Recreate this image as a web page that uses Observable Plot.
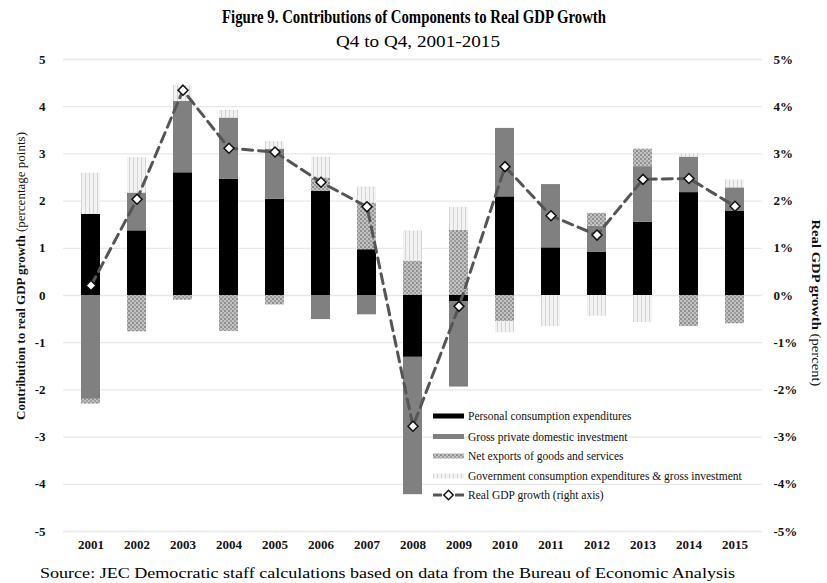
<!DOCTYPE html>
<html><head><meta charset="utf-8">
<script src="https://cdn.jsdelivr.net/npm/d3@7"></script>
<script src="https://cdn.jsdelivr.net/npm/@observablehq/plot@0.6"></script>
<style>
body{margin:0;background:#fff;font-family:"Liberation Serif","Times New Roman",serif;}
#wrap{position:relative;width:827px;height:583px;overflow:hidden;}
#head{position:absolute;left:0;top:0;}
#chart{position:absolute;left:0;top:50px;}
#foot{position:absolute;left:0;top:560px;}
</style></head><body>
<div id="wrap">
<svg id="head" width="827" height="50">
  <text id="title" x="414" y="23" text-anchor="middle" font-weight="bold" font-size="18.5" font-family="Liberation Serif" textLength="384" lengthAdjust="spacingAndGlyphs">Figure 9. Contributions of Components to Real GDP Growth</text>
  <text id="subtitle" x="418" y="47" text-anchor="middle" font-size="17" font-family="Liberation Serif" textLength="164" lengthAdjust="spacingAndGlyphs">Q4 to Q4, 2001-2015</text>
</svg>
<div id="chart"></div>
<svg id="foot" width="827" height="23">
  <text x="40" y="18" font-size="15.5" font-family="Liberation Serif" textLength="695" lengthAdjust="spacingAndGlyphs">Source: JEC Democratic staff calculations based on data from the Bureau of Economic Analysis</text>
</svg>
</div>
<script>
const years = ["2001","2002","2003","2004","2005","2006","2007","2008","2009","2010","2011","2012","2013","2014","2015"];
const pce = [1.72, 1.37, 2.60, 2.46, 2.04, 2.21, 0.97, -1.31, -0.13, 2.09, 1.01, 0.92, 1.55, 2.18, 1.79];
const inv = [-2.20, 0.80, 1.51, 1.30, 1.06, -0.51, -0.41, -2.91, -1.81, 1.45, 1.34, 0.55, 1.18, 0.75, 0.49];
const nx  = [-0.10, -0.77, -0.10, -0.76, -0.20, 0.28, 0.99, 0.73, 1.38, -0.55, 0.00, 0.27, 0.37, -0.66, -0.60];
const gov = [0.87, 0.75, 0.34, 0.16, 0.16, 0.44, 0.34, 0.64, 0.49, -0.24, -0.66, -0.44, -0.57, 0.08, 0.17];
const gdp = [0.21, 2.04, 4.35, 3.12, 3.04, 2.40, 1.88, -2.77, -0.23, 2.73, 1.69, 1.28, 2.46, 2.48, 1.89];
const seriesNames = ["Personal consumption expenditures","Gross private domestic investment","Net exports of goods and services","Government consumption expenditures & gross investment"];
const gdpLabel = "Real GDP growth (right axis)";
const yTicks = [-5,-4,-3,-2,-1,0,1,2,3,4,5];
const seriesFills = ["#000000","#808080","url(#pNx)","url(#pGov)"];

const seriesValues = [pce, inv, nx, gov];
const rows = [];
years.forEach((yr, i) => seriesNames.forEach((s, j) => rows.push({year: yr, series: s, value: seriesValues[j][i]})));
const gdpRows = years.map((yr, i) => ({year: yr, gdp: gdp[i]}));

const plot = Plot.plot({
  width: 827, height: 510,
  marginTop: 9, marginBottom: 29, marginLeft: 63, marginRight: 65,
  style: {fontFamily: "Liberation Serif, serif", fontSize: "13px", background: "transparent", color: "#111"},
  x: {domain: years, paddingInner: 0.59, paddingOuter: 0.295, label: null},
  y: {domain: [-5, 5], label: null},
  color: {domain: seriesNames, range: seriesFills},
  marks: [
    Plot.ruleY(yTicks, {stroke: "#e8e8e8", strokeWidth: 1.3}),
    Plot.axisX({tickSize: 0, tickPadding: 8, fontWeight: "bold", label: null}),
    Plot.axisY({ticks: yTicks, anchor: "left", tickSize: 0, tickPadding: 18, tickFormat: d => String(d), fontWeight: "bold", label: null}),
    Plot.axisY({ticks: yTicks, anchor: "right", tickSize: 0, tickPadding: 11, tickFormat: d => String(d) + "%", fontWeight: "bold", label: null}),
    Plot.barY(rows, {x: "year", y: "value", fill: "series", order: seriesNames}),
    Plot.line(gdpRows, {x: "year", y: "gdp", stroke: "#555", strokeWidth: 3, strokeDasharray: "10,6"}),
    Plot.dot(gdpRows, {x: "year", y: "gdp", symbol: "diamond2", r: 4.5, fill: "white", stroke: "#111", strokeWidth: 1.5})
  ]
});

const svg = d3.select(plot);
const defs = svg.insert("defs", ":first-child");
const pn = defs.append("pattern").attr("id", "pNx").attr("patternUnits", "userSpaceOnUse").attr("width", 4).attr("height", 4);
pn.append("rect").attr("width", 4).attr("height", 4).attr("fill", "#c2c2c2");
pn.append("rect").attr("width", 2).attr("height", 2).attr("fill", "#8f8f8f");
pn.append("rect").attr("x", 2).attr("y", 2).attr("width", 2).attr("height", 2).attr("fill", "#9e9e9e");
const pg = defs.append("pattern").attr("id", "pGov").attr("patternUnits", "userSpaceOnUse").attr("width", 4).attr("height", 4);
pg.append("rect").attr("width", 4).attr("height", 4).attr("fill", "#f2f2f2");
pg.append("rect").attr("x", 1).attr("width", 1).attr("height", 4).attr("fill", "#d4d4d4");

// axis titles
const lt = svg.append("text").attr("transform", "translate(20,226) rotate(-90)").attr("text-anchor", "middle")
  .attr("dominant-baseline", "central").attr("font-size", 13).attr("fill", "#111")
  .attr("textLength", 288).attr("lengthAdjust", "spacingAndGlyphs");
lt.append("tspan").attr("font-weight", "bold").text("Contribution to real GDP growth");
lt.append("tspan").text(" (percentage points)");
const rt = svg.append("text").attr("transform", "translate(817,253) rotate(90)").attr("text-anchor", "middle")
  .attr("dominant-baseline", "central").attr("font-size", 13).attr("fill", "#111")
  .attr("textLength", 167).attr("lengthAdjust", "spacingAndGlyphs");
rt.append("tspan").attr("font-weight", "bold").text("Real GDP growth");
rt.append("tspan").text(" (percent)");

// legend
const lg = svg.append("g").attr("font-size", 11.5).attr("fill", "#111").attr("text-anchor", "start");
const rowsY = [366, 386.5, 406, 426, 445];
seriesNames.forEach((s, i) => {
  lg.append("rect").attr("x", 433).attr("y", rowsY[i] - 2.5).attr("width", 31).attr("height", 5).attr("fill", seriesFills[i]);
  lg.append("text").attr("x", 468).attr("y", rowsY[i]).attr("dominant-baseline", "central").attr("text-anchor", "start").text(s);
});
const ly = rowsY[4];
lg.append("line").attr("x1", 433).attr("x2", 442).attr("y1", ly).attr("y2", ly).attr("stroke", "#555").attr("stroke-width", 3);
lg.append("line").attr("x1", 455).attr("x2", 464).attr("y1", ly).attr("y2", ly).attr("stroke", "#555").attr("stroke-width", 3);
lg.append("path").attr("d", d3.symbol(d3.symbolDiamond2, 56)()).attr("transform", `translate(448.5,${ly})`).attr("fill", "white").attr("stroke", "#111").attr("stroke-width", 1.5);
lg.append("text").attr("x", 468).attr("y", ly).attr("dominant-baseline", "central").attr("text-anchor", "start").text(gdpLabel);

document.getElementById("chart").appendChild(plot);
</script>
</body></html>
